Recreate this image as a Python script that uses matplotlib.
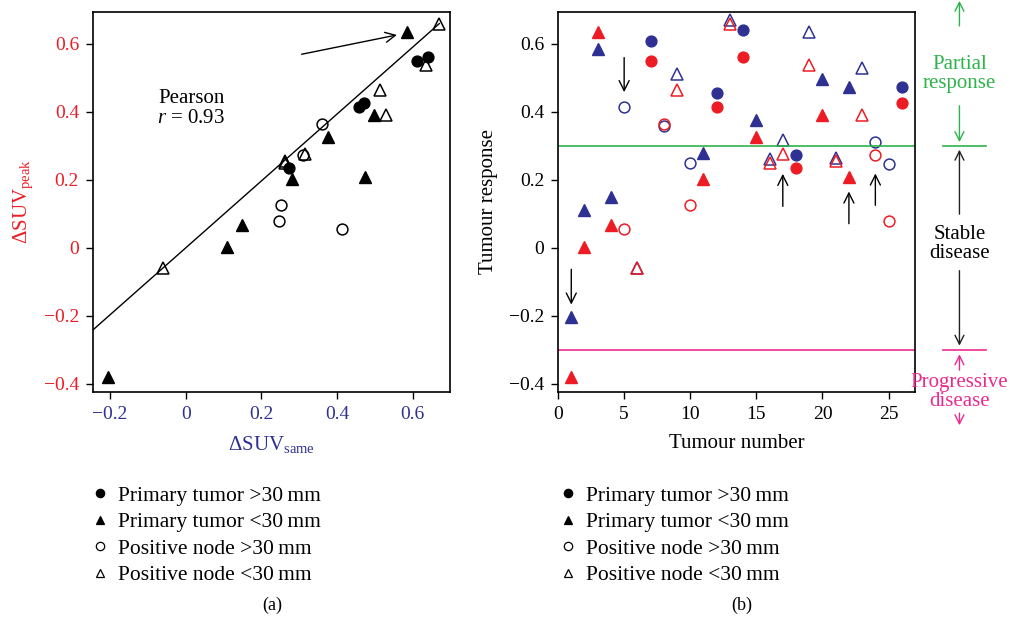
import numpy as np
import matplotlib.pyplot as plt
from matplotlib.lines import Line2D

plt.rcParams['font.family'] = ['Liberation Serif', 'DejaVu Serif']
plt.rcParams['mathtext.fontset'] = 'custom'
plt.rcParams['mathtext.rm'] = 'Liberation Serif'
plt.rcParams['mathtext.it'] = 'Liberation Serif:italic'
plt.rcParams['font.size'] = 14

# Tumour data
tumour = np.arange(1, 27)
suv_same = [-0.204, 0.110, 0.585, 0.149, 0.414, -0.060, 0.610, 0.360, 0.512, 0.251,
            0.280, 0.457, 0.669, 0.641, 0.375, 0.261, 0.316, 0.272, 0.636, 0.497,
            0.263, 0.473, 0.528, 0.311, 0.246, 0.472]
suv_peak = [-0.380, 0.004, 0.636, 0.068, 0.055, -0.058, 0.551, 0.364, 0.463, 0.125,
            0.202, 0.414, 0.659, 0.563, 0.327, 0.249, 0.276, 0.234, 0.538, 0.391,
            0.257, 0.208, 0.391, 0.272, 0.079, 0.425]
lesion = ['PT<', 'PT<', 'PT<', 'PT<', 'PN>', 'PN<', 'PT>', 'PN>', 'PN<', 'PN>',
          'PT<', 'PT>', 'PN<', 'PT>', 'PT<', 'PN<', 'PN<', 'PT>', 'PN<', 'PT<',
          'PN<', 'PT<', 'PN<', 'PN>', 'PN>', 'PT>']

categories = ['PT>', 'PT<', 'PN>', 'PN<']
cat_labels = ['Primary tumor >30\u2009mm', 'Primary tumor <30\u2009mm',
              'Positive node >30\u2009mm', 'Positive node <30\u2009mm']
cat_marker = {'PT>': 'o', 'PT<': '^', 'PN>': 'o', 'PN<': '^'}
cat_filled = {'PT>': True, 'PT<': True, 'PN>': False, 'PN<': False}

fit_slope = 0.985
fit_intercept = 0.0
pearson_r = 0.93
partial_thr = 0.3
progressive_thr = -0.3

RED = '#ed1c24'
BLUE = '#2e3192'
GREEN = '#2db34a'
PINK = '#ec2a8e'

xs_same = np.array(suv_same)
ys_peak = np.array(suv_peak)
lesion = np.array(lesion)

fig = plt.figure(figsize=(10.15, 6.21), dpi=100)
ax1 = fig.add_axes([0.0916, 0.3688, 0.3517, 0.6119])
ax2 = fig.add_axes([0.5498, 0.3688, 0.3517, 0.6119])

ylim = (-0.424, 0.694)


def draw(ax, x, y, c, cat, ms=7.8):
    m = cat_marker[cat]
    size = ms + 1 if m == '^' else ms
    if cat_filled[cat]:
        ax.plot(x, y, m, ls='none', ms=size, mfc=c, mec=c, mew=1)
    else:
        ax.plot(x, y, m, ls='none', ms=size, mfc='none', mec=c, mew=1.1)


# (a) scatter of SUVpeak against SUVsame
for cat in categories:
    sel = lesion == cat
    draw(ax1, xs_same[sel], ys_peak[sel], 'black', cat)

xl = np.array([-0.245, 0.67])
ax1.plot(xl, fit_slope * xl + fit_intercept, color='black', lw=1)
ax1.set_xlim(-0.245, 0.698)
ax1.set_ylim(*ylim)
ax1.set_xticks([-0.2, 0, 0.2, 0.4, 0.6])
ax1.set_xticklabels(['\u22120.2', '0', '0.2', '0.4', '0.6'])
ax1.set_yticks([-0.4, -0.2, 0, 0.2, 0.4, 0.6])
ax1.set_yticklabels(['\u22120.4', '\u22120.2', '0', '0.2', '0.4', '0.6'])
ax1.tick_params(axis='x', labelcolor=BLUE)
ax1.tick_params(axis='y', labelcolor=RED)
ax1.set_xlabel('\u0394SUV$_{\\rm same}$', color=BLUE, fontsize=15, labelpad=8)
ax1.set_ylabel('\u0394SUV$_{\\rm peak}$', color=RED, fontsize=15, labelpad=6)
ax1.text(0.015, 0.41, 'Pearson\n$r$ = %.2f' % pearson_r, ha='center', va='center',
         fontsize=15, linespacing=1.1)
i3 = 2
ax1.annotate('', xy=(xs_same[i3] - 0.02, ys_peak[i3] - 0.008), xytext=(0.299, 0.568),
             arrowprops=dict(arrowstyle='->', color='black', lw=1, mutation_scale=18))

# (b) tumour response by tumour number
for cat in categories:
    sel = lesion == cat
    draw(ax2, tumour[sel], xs_same[sel], BLUE, cat)
    draw(ax2, tumour[sel], ys_peak[sel], RED, cat)

ax2.axhline(partial_thr, color=GREEN, lw=1.2)
ax2.axhline(progressive_thr, color=PINK, lw=1.2)
ax2.set_xlim(0, 27)
ax2.set_ylim(*ylim)
ax2.set_xticks([0, 5, 10, 15, 20, 25])
ax2.set_yticks([-0.4, -0.2, 0, 0.2, 0.4, 0.6])
ax2.set_yticklabels(['\u22120.4', '\u22120.2', '0', '0.2', '0.4', '0.6'])
ax2.set_xlabel('Tumour number', fontsize=15, labelpad=8)
ax2.set_ylabel('Tumour response', fontsize=15, labelpad=8)

arrow_kw = dict(arrowstyle='->', color='black', lw=1, mutation_scale=18)
# down arrows (tumours 1 and 5), up arrows (17, 22, 24)
for t, y0, y1 in [(1, -0.055, -0.175), (5, 0.568, 0.450)]:
    ax2.annotate('', xy=(t, y1), xytext=(t, y0), arrowprops=arrow_kw)
for t, y0, y1 in [(17, 0.114, 0.226), (22, 0.063, 0.174), (24, 0.117, 0.227)]:
    ax2.annotate('', xy=(t, y1), xytext=(t, y0), arrowprops=arrow_kw)

# response category brackets to the right of panel (b)
bx = 30.36
side_kw = dict(annotation_clip=False)
ax2.annotate('', xy=(bx, 0.735), xytext=(bx, 0.645),
             arrowprops=dict(arrowstyle='->', color=GREEN, lw=1, mutation_scale=16), **side_kw)
ax2.text(bx, 0.512, 'Partial\nresponse', color=GREEN, ha='center', va='center',
         fontsize=15, linespacing=1.0, clip_on=False)
ax2.annotate('', xy=(bx, 0.303), xytext=(bx, 0.426),
             arrowprops=dict(arrowstyle='->', color=GREEN, lw=1, mutation_scale=16), **side_kw)
ax2.plot([29.1, 32.4], [partial_thr, partial_thr], color=GREEN, lw=1.2, clip_on=False)

ax2.annotate('', xy=(bx, 0.297), xytext=(bx, 0.091),
             arrowprops=dict(arrowstyle='->', color='#222222', lw=1, mutation_scale=16), **side_kw)
ax2.text(bx, 0.012, 'Stable\ndisease', color='black', ha='center', va='center',
         fontsize=15, linespacing=1.0, clip_on=False)
ax2.annotate('', xy=(bx, -0.296), xytext=(bx, -0.059),
             arrowprops=dict(arrowstyle='->', color='#222222', lw=1, mutation_scale=16), **side_kw)

ax2.plot([29.1, 32.4], [progressive_thr, progressive_thr], color=PINK, lw=1.2, clip_on=False)
ax2.annotate('', xy=(bx, -0.305), xytext=(bx, -0.368),
             arrowprops=dict(arrowstyle='->', color=PINK, lw=1, mutation_scale=16), **side_kw)
ax2.text(bx, -0.424, 'Progressive\ndisease', color=PINK, ha='center', va='center',
         fontsize=15, linespacing=1.0, clip_on=False)
ax2.annotate('', xy=(bx, -0.53), xytext=(bx, -0.478),
             arrowprops=dict(arrowstyle='->', color=PINK, lw=1, mutation_scale=16), **side_kw)

for ax in (ax1, ax2):
    for s in ax.spines.values():
        s.set_linewidth(1.2)
    ax.tick_params(direction='out', length=5, width=1, labelsize=14, pad=5,
                   top=False, right=False)

# legends below each panel
handles = []
for cat, lab in zip(categories, cat_labels):
    m = cat_marker[cat]
    fc = 'black' if cat_filled[cat] else 'none'
    handles.append(Line2D([], [], marker=m, ls='none', ms=6, mfc=fc, mec='black',
                          mew=0.9, label=lab))
for x0 in (0.090, 0.551):
    fig.legend(handles=handles, loc='upper left', bbox_to_anchor=(x0, 0.218),
               frameon=False, fontsize=15.5, handlelength=0.8, handletextpad=0.45,
               labelspacing=0.3, borderpad=0, borderaxespad=0)

fig.text(0.268, 0.026, '(a)', ha='center', va='center', fontsize=13)
fig.text(0.731, 0.026, '(b)', ha='center', va='center', fontsize=13)

fig.savefig('out.png', dpi=100)
